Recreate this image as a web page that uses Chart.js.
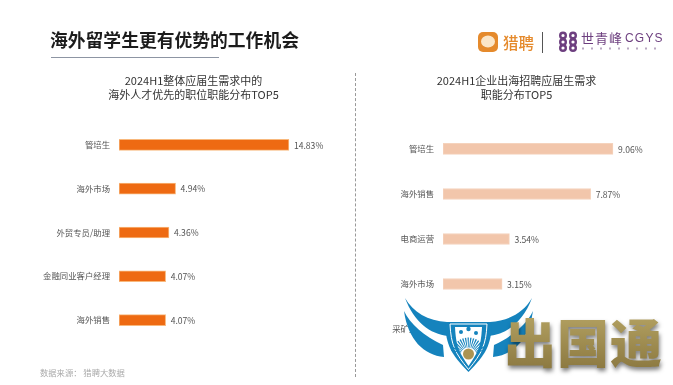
<!DOCTYPE html>
<html>
<head>
<meta charset="utf-8">
<script src="https://cdn.jsdelivr.net/npm/chart.js@4/dist/chart.umd.min.js"></script>
<style>
  html, body { margin: 0; padding: 0; background: #fff; }
  body { width: 673px; height: 385px; position: relative; overflow: hidden; font-family: "Noto Sans CJK SC", sans-serif; }
  canvas { position: absolute; top: 0; }
  #leftChart { left: 0; }
  #rightChart { left: 360px; }
  .abs { position: absolute; white-space: nowrap; }
  #pageTitle { left: 50px; top: 26px; font-size: 17.8px; line-height: 26px; font-weight: 700; color: #1c1c1c; }
  #titleLine { left: 51px; top: 57px; width: 168px; height: 1px; background: #8d95a3; }
  #divider { left: 354.5px; top: 73px; height: 304px; border-left: 1px dashed #999; }
  #source { left: 40px; top: 365px; font-size: 8.3px; line-height: 14px; color: #aaa; }
  #lpName { left: 503px; top: 31px; font-size: 15.5px; line-height: 22px; font-weight: 500; color: #e58a2c; }
  #sep { left: 542px; top: 32px; width: 1px; height: 21px; background: #555; }
  #sqName { left: 581px; top: 29px; font-size: 13px; line-height: 18px; color: #6d3f7f; letter-spacing: 1px; }
  #sqLatin { left: 625px; top: 30px; font-size: 12px; line-height: 16px; color: #6d3f7f; letter-spacing: 1.2px; font-family: "Liberation Sans", sans-serif; }
  #cover { left: 411px; top: 318px; width: 253px; height: 60px; background: #fff; }
  #brand {
    left: 504px; top: 303px; font-size: 52px; line-height: 76px; font-weight: 900; letter-spacing: 1px;
    background: linear-gradient(#bba968, #85723b);
    -webkit-background-clip: text; background-clip: text; color: transparent;
    filter: drop-shadow(1px 3px 2px rgba(0,0,0,.5));
  }
  svg { position: absolute; left: 0; top: 0; }
</style>
</head>
<body>
<canvas id="leftChart" width="387" height="385"></canvas>
<canvas id="rightChart" width="313" height="385"></canvas>

<div class="abs" id="pageTitle">海外留学生更有优势的工作机会</div>
<div class="abs" id="titleLine"></div>
<div class="abs" id="divider"></div>
<div class="abs" id="source">数据来源： 猎聘大数据</div>

<div class="abs" id="lpName">猎聘</div>
<div class="abs" id="sep"></div>
<div class="abs" id="sqName">世青峰</div>
<div class="abs" id="sqLatin">CGYS</div>

<div class="abs" id="cover"></div>
<svg width="673" height="385">
  <!-- 猎聘 logo -->
  <rect x="478" y="32" width="20" height="20" rx="5" fill="#e58a2c"/>
  <ellipse cx="488" cy="41.5" rx="7" ry="6" fill="#fbe6c8"/>
  <!-- 世青峰 logo -->
  <g fill="none" stroke="#6d3f7f" stroke-width="2.4">
    <circle cx="563" cy="35.5" r="2.8"/><circle cx="573" cy="35.5" r="2.8"/>
    <circle cx="563" cy="42" r="2.8"/><circle cx="573" cy="42" r="2.8"/>
    <circle cx="563" cy="48" r="2.8"/><circle cx="573" cy="48" r="2.8"/>
  </g>
  <path d="M582,48.5 H662" stroke="#b9a8c2" stroke-width="2" stroke-dasharray="2 7"/>
  <!-- watermark -->
  <g id="wing" fill="#1583bd">
    <path d="M405,298 C413,312 428,321 447,322 L448,336 C430,334 414,322 405,298 Z"/>
    <path d="M404,311 C410,324 424,336 443,345 L444,357 C424,355 408,340 404,311 Z"/>
  </g>
  <use href="#wing" transform="translate(937,0) scale(-1,1)"/>
  <path d="M445,322 L492,322 C491,346 486,354 468.5,372 C451,354 446,346 445,322 Z" fill="#1583bd"/>
  <path d="M450,324 L487,324 C486,345 482,353 468.5,369.5 C455,353 451,345 450,324 Z" fill="none" stroke="#fff" stroke-width="1"/>
  <path d="M455,327 L482,327 C481,345 479,351 468.5,366 C458,351 456,345 455,327 Z" fill="#fff"/>
  <path d="M456,352 A13,13 0 0 1 481,352" fill="none" stroke="#1583bd" stroke-width="10" stroke-dasharray="1 1"/>
  <circle cx="468.5" cy="354" r="5.5" fill="#ab9453"/>
  <circle cx="461" cy="332" r="2" fill="#1583bd"/>
  <circle cx="468.5" cy="329" r="2.2" fill="#1583bd"/>
  <circle cx="476" cy="333" r="2" fill="#1583bd"/>
</svg>
<div class="abs" id="brand">出国通</div>

<script>
const leftTitle = ['2024H1整体应届生需求中的', '海外人才优先的职位职能分布TOP5'];
const leftCategories = ['管培生', '海外市场', '外贸专员/助理', '金融同业客户经理', '海外销售'];
const leftValues = [14.83, 4.94, 4.36, 4.07, 4.07];

const rightTitle = ['2024H1企业出海招聘应届生需求', '职能分布TOP5'];
const rightCategories = ['管培生', '海外销售', '电商运营', '海外市场', '采矿工程师'];
// last value is hidden by the watermark, estimated
const rightValues = [9.06, 7.87, 3.54, 3.15, 2.9];

const fontFamily = '"Noto Sans CJK SC", sans-serif';

// draws the "14.83%" text at the end of each bar
const valueLabels = {
    id: 'valueLabels',
    afterDatasetsDraw(chart) {
        const c = chart.ctx;
        const values = chart.data.datasets[0].data;
        c.save();
        c.font = '8.6px ' + fontFamily;
        c.fillStyle = '#555';
        c.textBaseline = 'middle';
        chart.getDatasetMeta(0).data.forEach((bar, i) => {
            c.fillText(values[i].toFixed(2) + '%', bar.x + 5, bar.y + 0.5);
        });
        c.restore();
    }
};

function drawBars(id, cfg) {
    new Chart(document.getElementById(id), {
        type: 'bar',
        data: {
            labels: cfg.categories,
            datasets: [{
                data: cfg.values,
                backgroundColor: cfg.color,
                borderColor: cfg.edge,
                borderWidth: 1,
                borderSkipped: false,
                barThickness: cfg.thickness
            }]
        },
        options: {
            indexAxis: 'y',
            responsive: false,
            animation: false,
            layout: { padding: { bottom: cfg.paddingBottom } },
            plugins: {
                legend: { display: false },
                tooltip: { enabled: false },
                title: {
                    display: true,
                    text: cfg.title,
                    color: '#333',
                    font: { family: fontFamily, size: 11, weight: 'normal', lineHeight: 1.27 },
                    padding: { top: 74, bottom: cfg.titleGap }
                }
            },
            scales: {
                x: { display: false, min: 0, max: cfg.xMax },
                y: {
                    afterFit(axis) { axis.width = cfg.axisWidth; },
                    grid: { display: false, drawTicks: false },
                    border: { display: false },
                    ticks: { color: '#555', padding: 9, autoSkip: false, font: { family: fontFamily, size: 8.4 } }
                }
            }
        },
        plugins: [valueLabels]
    });
}

drawBars('leftChart', {
    title: leftTitle, categories: leftCategories, values: leftValues,
    color: '#ee6a12', edge: '#f8b87c', thickness: 11,
    xMax: 23.39, axisWidth: 119, titleGap: 21, paddingBottom: 43
});

drawBars('rightChart', {
    title: rightTitle, categories: rightCategories, values: rightValues,
    color: '#f2c6ab', edge: '#f5d3bd', thickness: 11,
    xMax: 12.26, axisWidth: 83, titleGap: 24.5, paddingBottom: 33.5
});
</script>
</body>
</html>
